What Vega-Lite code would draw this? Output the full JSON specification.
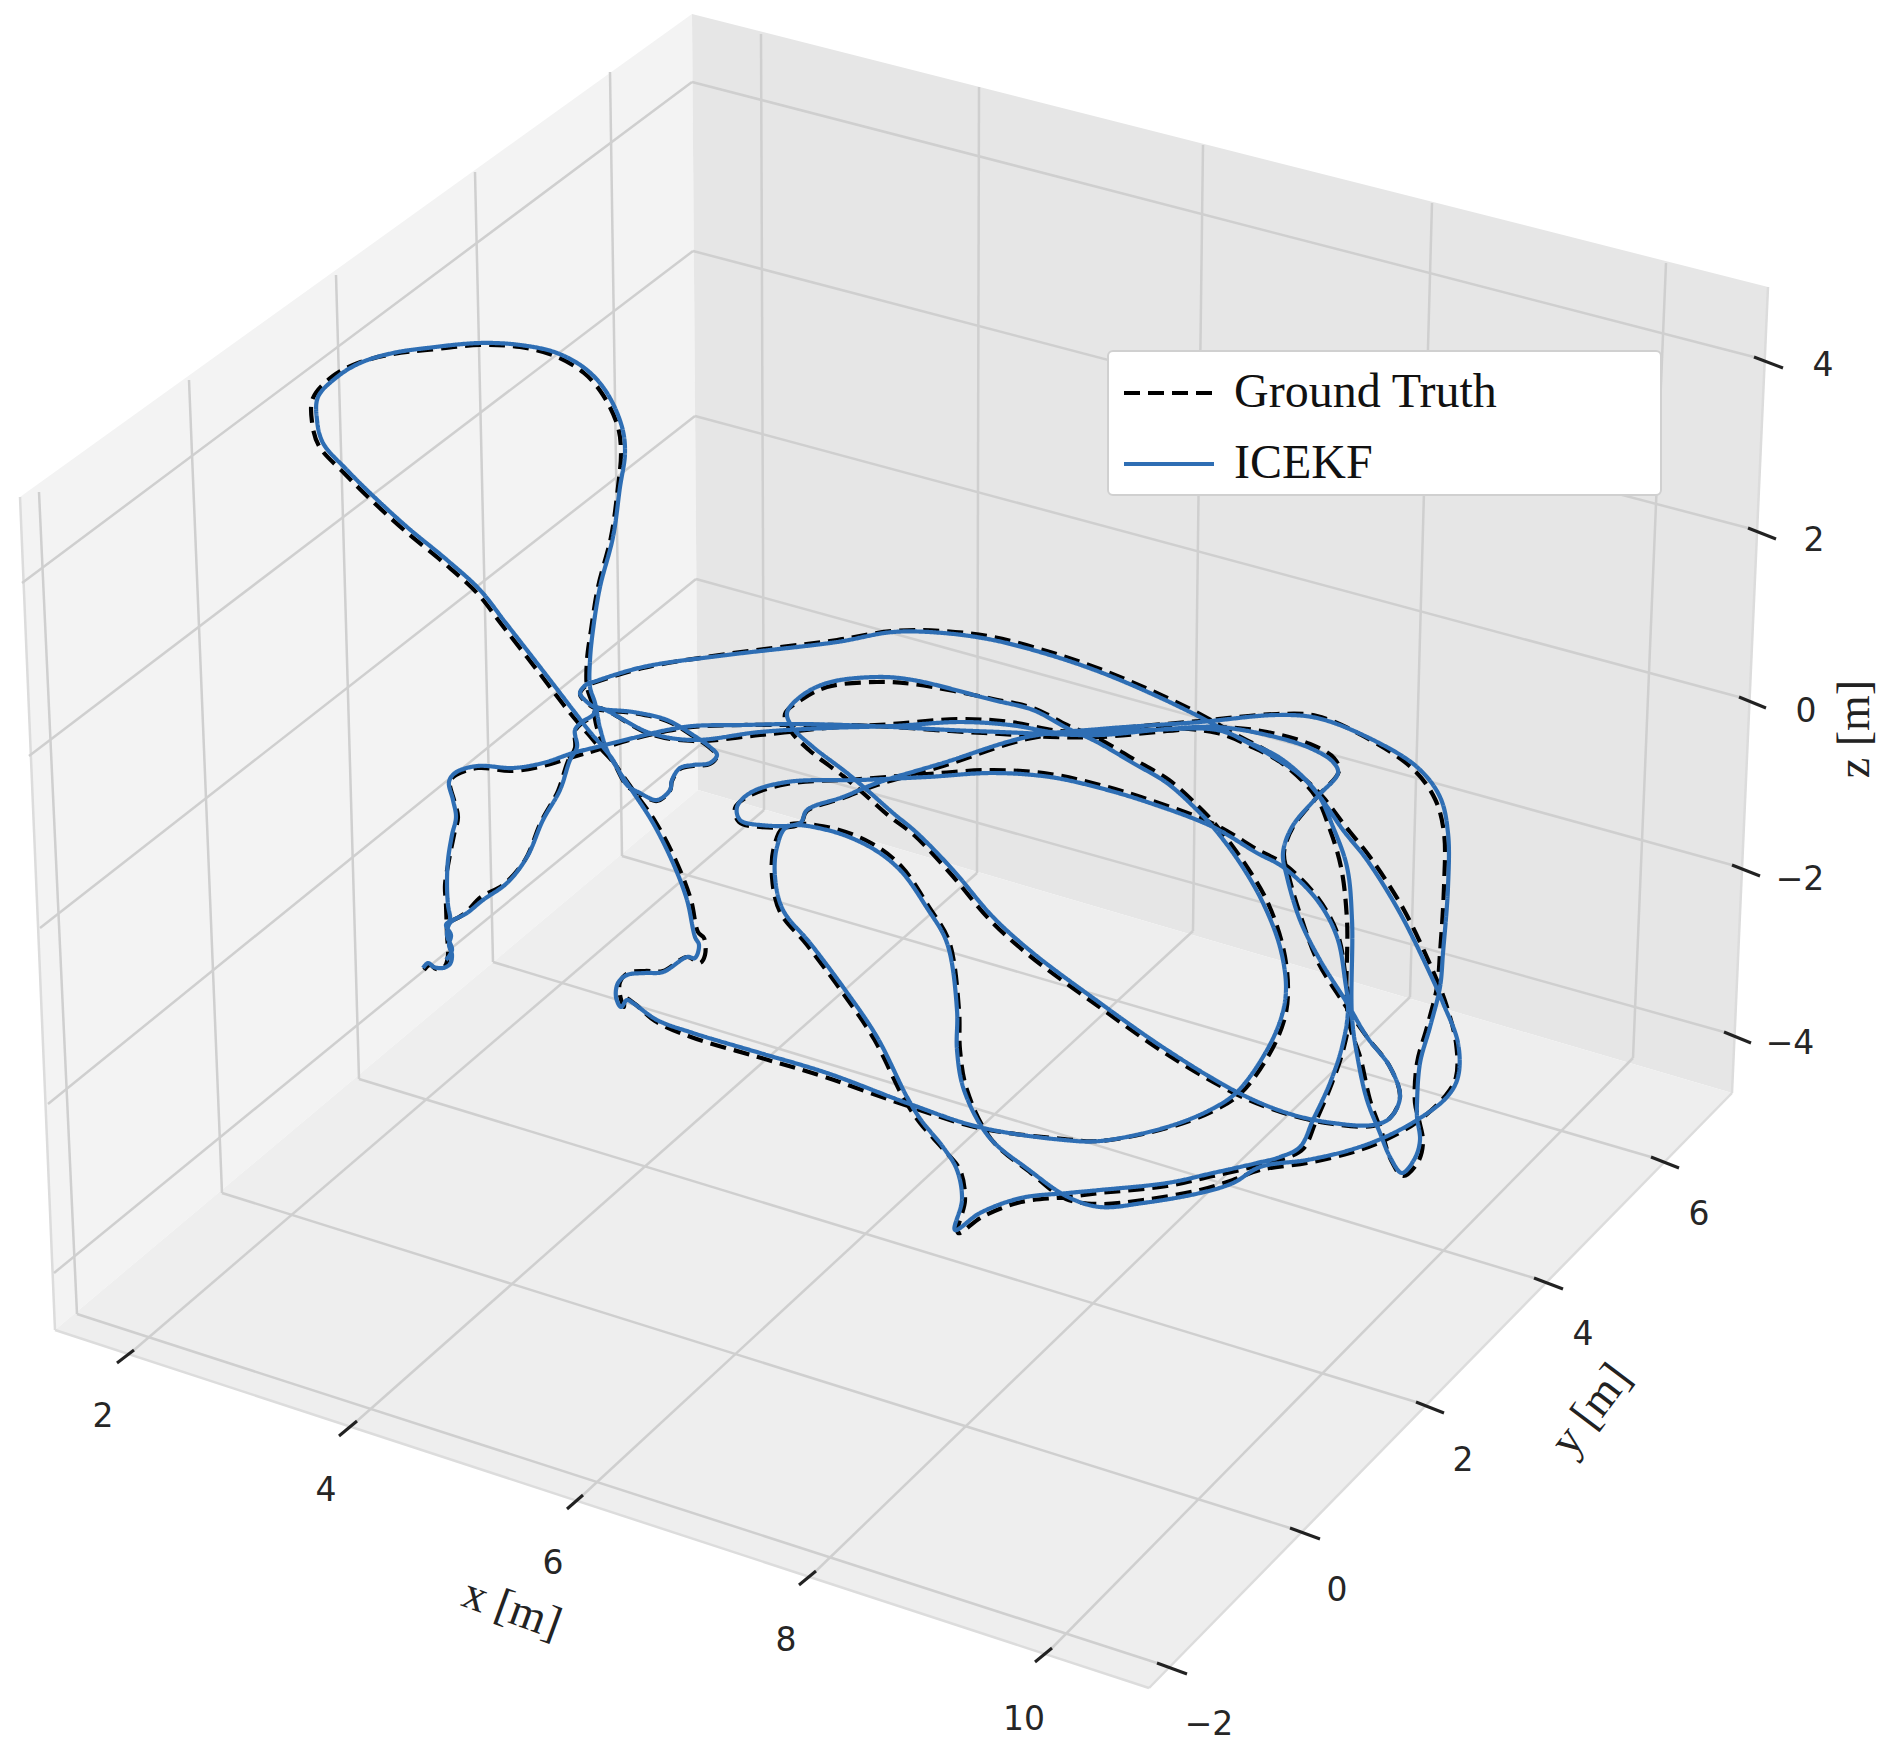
{"$schema":"https://vega.github.io/schema/vega-lite/v6.json","width":1890,"height":1762,"padding":0,"autosize":{"type":"fit","contains":"padding"},"background":"white",
"datasets":{
"left":[{"px":20,"py":497,"i":1},{"px":692,"py":14,"i":2},{"px":698,"py":790,"i":3},{"px":55,"py":1330,"i":4}],
"back":[{"px":692,"py":14,"i":1},{"px":1768,"py":287,"i":2},{"px":1732,"py":1093,"i":3},{"px":698,"py":790,"i":4}],
"floor":[{"px":55,"py":1330,"i":1},{"px":698,"py":790,"i":2},{"px":1732,"py":1093,"i":3},{"px":1149,"py":1688,"i":4}],
"edges":[{"px":55,"py":1330,"qx":1149,"qy":1688},{"px":1149,"py":1688,"qx":1732,"qy":1093},{"px":1768,"py":287,"qx":1732,"qy":1093},{"px":20,"py":497,"qx":55,"qy":1330}],
"grid":[{"px":39,"py":492,"qx":77,"qy":1314},{"px":189,"py":380,"qx":222,"qy":1193},{"px":336,"py":275,"qx":359,"qy":1079},{"px":475,"py":172,"qx":493,"qy":962},{"px":610,"py":72,"qx":622,"qy":856},
{"px":77,"py":1314,"qx":1157,"qy":1663},{"px":222,"py":1193,"qx":1290,"qy":1528},{"px":359,"py":1079,"qx":1416,"qy":1402},{"px":493,"py":962,"qx":1534,"qy":1278},{"px":622,"py":856,"qx":1651,"qy":1157},
{"px":761,"py":34,"qx":764,"qy":810},{"px":979,"py":87,"qx":977,"qy":873},{"px":1203,"py":145,"qx":1193,"qy":931},{"px":1432,"py":203,"qx":1410,"qy":997},{"px":1666,"py":263,"qx":1633,"qy":1058},
{"px":764,"py":810,"qx":134,"qy":1350},{"px":977,"py":873,"qx":357,"qy":1421},{"px":1193,"py":931,"qx":583,"qy":1495},{"px":1410,"py":997,"qx":816,"qy":1571},{"px":1633,"py":1058,"qx":1052,"qy":1648},
{"px":22,"py":583,"qx":692,"qy":82},{"px":29,"py":756,"qx":693,"qy":251},{"px":40,"py":928,"qx":695,"qy":416},{"px":48,"py":1104,"qx":696,"qy":579},{"px":54,"py":1273,"qx":700,"qy":745},
{"px":692,"py":82,"qx":1754,"qy":357},{"px":693,"py":251,"qx":1748,"qy":528},{"px":695,"py":416,"qx":1739,"qy":697},{"px":696,"py":579,"qx":1732,"qy":865},{"px":700,"py":745,"qx":1724,"qy":1032}],
"ticks":[{"px":117,"py":1363,"qx":134,"qy":1350},{"px":339,"py":1436,"qx":357,"qy":1421},{"px":567,"py":1509,"qx":583,"qy":1495},{"px":799,"py":1585,"qx":816,"qy":1571},{"px":1035,"py":1662,"qx":1052,"qy":1648},
{"px":1157,"py":1663,"qx":1187,"qy":1674},{"px":1290,"py":1528,"qx":1320,"qy":1539},{"px":1416,"py":1402,"qx":1444,"qy":1413},{"px":1534,"py":1278,"qx":1563,"qy":1289},{"px":1651,"py":1157,"qx":1679,"qy":1168},
{"px":1754,"py":357,"qx":1783,"qy":368},{"px":1748,"py":528,"qx":1776,"qy":539},{"px":1739,"py":697,"qx":1766,"qy":708},{"px":1732,"py":865,"qx":1760,"qy":876},{"px":1724,"py":1032,"qx":1751,"qy":1043}],
"ticklabels":[{"px":103,"py":1417,"t":"2"},{"px":326,"py":1491,"t":"4"},{"px":553,"py":1564,"t":"6"},{"px":786,"py":1641,"t":"8"},{"px":1024,"py":1720,"t":"10"},
{"px":1209,"py":1725,"t":"−2"},{"px":1337,"py":1591,"t":"0"},{"px":1463,"py":1461,"t":"2"},{"px":1583,"py":1335,"t":"4"},{"px":1699,"py":1215,"t":"6"},
{"px":1823,"py":366,"t":"4"},{"px":1814,"py":541,"t":"2"},{"px":1806,"py":712,"t":"0"},{"px":1800,"py":880,"t":"−2"},{"px":1790,"py":1044,"t":"−4"}],
"traj":[
{"s":"Ground Truth","i":1,"px":424,"py":970},{"s":"Ground Truth","i":2,"px":430,"py":965},{"s":"Ground Truth","i":3,"px":436,"py":969},{"s":"Ground Truth","i":4,"px":445,"py":966},{"s":"Ground Truth","i":5,"px":448,"py":955},{"s":"Ground Truth","i":6,"px":447,"py":935},{"s":"Ground Truth","i":7,"px":446,"py":905},{"s":"Ground Truth","i":8,"px":445,"py":885},{"s":"Ground Truth","i":9,"px":449,"py":860},{"s":"Ground Truth","i":10,"px":454,"py":835},{"s":"Ground Truth","i":11,"px":458,"py":817},{"s":"Ground Truth","i":12,"px":454,"py":800},{"s":"Ground Truth","i":13,"px":450,"py":782},{"s":"Ground Truth","i":14,"px":456,"py":775},{"s":"Ground Truth","i":15,"px":478,"py":768},{"s":"Ground Truth","i":16,"px":513,"py":771},{"s":"Ground Truth","i":17,"px":543,"py":766},{"s":"Ground Truth","i":18,"px":573,"py":757},{"s":"Ground Truth","i":19,"px":597,"py":750},{"s":"Ground Truth","i":20,"px":633,"py":739},{"s":"Ground Truth","i":21,"px":667,"py":731},{"s":"Ground Truth","i":22,"px":693,"py":727},{"s":"Ground Truth","i":23,"px":743,"py":725},{"s":"Ground Truth","i":24,"px":793,"py":725},{"s":"Ground Truth","i":25,"px":843,"py":725},{"s":"Ground Truth","i":26,"px":893,"py":727},{"s":"Ground Truth","i":27,"px":950,"py":731},{"s":"Ground Truth","i":28,"px":1000,"py":734},{"s":"Ground Truth","i":29,"px":1050,"py":737},{"s":"Ground Truth","i":30,"px":1100,"py":737},{"s":"Ground Truth","i":31,"px":1167,"py":731},{"s":"Ground Truth","i":32,"px":1217,"py":727},{"s":"Ground Truth","i":33,"px":1267,"py":732},{"s":"Ground Truth","i":34,"px":1310,"py":744},{"s":"Ground Truth","i":35,"px":1334,"py":758},{"s":"Ground Truth","i":36,"px":1339,"py":771},{"s":"Ground Truth","i":37,"px":1318,"py":796},{"s":"Ground Truth","i":38,"px":1293,"py":827},{"s":"Ground Truth","i":39,"px":1284,"py":853},{"s":"Ground Truth","i":40,"px":1289,"py":877},{"s":"Ground Truth","i":41,"px":1302,"py":920},{"s":"Ground Truth","i":42,"px":1318,"py":962},{"s":"Ground Truth","i":43,"px":1345,"py":1005},{"s":"Ground Truth","i":44,"px":1367,"py":1037},{"s":"Ground Truth","i":45,"px":1390,"py":1067},{"s":"Ground Truth","i":46,"px":1400,"py":1097},{"s":"Ground Truth","i":47,"px":1390,"py":1118},{"s":"Ground Truth","i":48,"px":1373,"py":1126},{"s":"Ground Truth","i":49,"px":1333,"py":1124},{"s":"Ground Truth","i":50,"px":1287,"py":1114},{"s":"Ground Truth","i":51,"px":1236,"py":1094},{"s":"Ground Truth","i":52,"px":1165,"py":1053},{"s":"Ground Truth","i":53,"px":1098,"py":1006},{"s":"Ground Truth","i":54,"px":1030,"py":956},{"s":"Ground Truth","i":55,"px":990,"py":920},{"s":"Ground Truth","i":56,"px":950,"py":873},{"s":"Ground Truth","i":57,"px":914,"py":835},{"s":"Ground Truth","i":58,"px":889,"py":816},{"s":"Ground Truth","i":59,"px":863,"py":793},{"s":"Ground Truth","i":60,"px":843,"py":776},{"s":"Ground Truth","i":61,"px":809,"py":750},{"s":"Ground Truth","i":62,"px":790,"py":730},{"s":"Ground Truth","i":63,"px":785,"py":714},{"s":"Ground Truth","i":64,"px":801,"py":700},{"s":"Ground Truth","i":65,"px":827,"py":687},{"s":"Ground Truth","i":66,"px":877,"py":682},{"s":"Ground Truth","i":67,"px":913,"py":684},{"s":"Ground Truth","i":68,"px":993,"py":699},{"s":"Ground Truth","i":69,"px":1033,"py":708},{"s":"Ground Truth","i":70,"px":1067,"py":725},{"s":"Ground Truth","i":71,"px":1099,"py":739},{"s":"Ground Truth","i":72,"px":1135,"py":760},{"s":"Ground Truth","i":73,"px":1169,"py":780},{"s":"Ground Truth","i":74,"px":1199,"py":807},{"s":"Ground Truth","i":75,"px":1216,"py":825},{"s":"Ground Truth","i":76,"px":1243,"py":861},{"s":"Ground Truth","i":77,"px":1267,"py":901},{"s":"Ground Truth","i":78,"px":1283,"py":947},{"s":"Ground Truth","i":79,"px":1288,"py":987},{"s":"Ground Truth","i":80,"px":1285,"py":1017},{"s":"Ground Truth","i":81,"px":1270,"py":1053},{"s":"Ground Truth","i":82,"px":1240,"py":1094},{"s":"Ground Truth","i":83,"px":1211,"py":1112},{"s":"Ground Truth","i":84,"px":1167,"py":1128},{"s":"Ground Truth","i":85,"px":1100,"py":1141},{"s":"Ground Truth","i":86,"px":1064,"py":1139},{"s":"Ground Truth","i":87,"px":979,"py":1128},{"s":"Ground Truth","i":88,"px":905,"py":1105},{"s":"Ground Truth","i":89,"px":825,"py":1077},{"s":"Ground Truth","i":90,"px":758,"py":1057},{"s":"Ground Truth","i":91,"px":691,"py":1037},{"s":"Ground Truth","i":92,"px":655,"py":1021},{"s":"Ground Truth","i":93,"px":635,"py":1004},{"s":"Ground Truth","i":94,"px":625,"py":998},{"s":"Ground Truth","i":95,"px":624,"py":1007},{"s":"Ground Truth","i":96,"px":620,"py":995},{"s":"Ground Truth","i":97,"px":620,"py":982},{"s":"Ground Truth","i":98,"px":628,"py":973},{"s":"Ground Truth","i":99,"px":645,"py":971},{"s":"Ground Truth","i":100,"px":663,"py":971},{"s":"Ground Truth","i":101,"px":687,"py":957},{"s":"Ground Truth","i":102,"px":700,"py":963},{"s":"Ground Truth","i":103,"px":705,"py":955},{"s":"Ground Truth","i":104,"px":704,"py":938},{"s":"Ground Truth","i":105,"px":698,"py":932},{"s":"Ground Truth","i":106,"px":691,"py":900},{"s":"Ground Truth","i":107,"px":676,"py":861},{"s":"Ground Truth","i":108,"px":655,"py":821},{"s":"Ground Truth","i":109,"px":633,"py":790},{"s":"Ground Truth","i":110,"px":617,"py":767},{"s":"Ground Truth","i":111,"px":606,"py":750},{"s":"Ground Truth","i":112,"px":597,"py":728},{"s":"Ground Truth","i":113,"px":592,"py":703},{"s":"Ground Truth","i":114,"px":587,"py":687},{"s":"Ground Truth","i":115,"px":587,"py":660},{"s":"Ground Truth","i":116,"px":591,"py":630},{"s":"Ground Truth","i":117,"px":598,"py":587},{"s":"Ground Truth","i":118,"px":611,"py":537},{"s":"Ground Truth","i":119,"px":618,"py":487},{"s":"Ground Truth","i":120,"px":621,"py":453},{"s":"Ground Truth","i":121,"px":618,"py":427},{"s":"Ground Truth","i":122,"px":603,"py":395},{"s":"Ground Truth","i":123,"px":584,"py":373},{"s":"Ground Truth","i":124,"px":555,"py":356},{"s":"Ground Truth","i":125,"px":520,"py":347},{"s":"Ground Truth","i":126,"px":480,"py":345},{"s":"Ground Truth","i":127,"px":427,"py":350},{"s":"Ground Truth","i":128,"px":393,"py":354},{"s":"Ground Truth","i":129,"px":358,"py":363},{"s":"Ground Truth","i":130,"px":333,"py":376},{"s":"Ground Truth","i":131,"px":313,"py":398},{"s":"Ground Truth","i":132,"px":312,"py":422},{"s":"Ground Truth","i":133,"px":319,"py":446},{"s":"Ground Truth","i":134,"px":344,"py":473},{"s":"Ground Truth","i":135,"px":367,"py":496},{"s":"Ground Truth","i":136,"px":404,"py":530},{"s":"Ground Truth","i":137,"px":444,"py":563},{"s":"Ground Truth","i":138,"px":477,"py":593},{"s":"Ground Truth","i":139,"px":502,"py":625},{"s":"Ground Truth","i":140,"px":537,"py":670},{"s":"Ground Truth","i":141,"px":570,"py":713},{"s":"Ground Truth","i":142,"px":588,"py":734},{"s":"Ground Truth","i":143,"px":601,"py":749},{"s":"Ground Truth","i":144,"px":613,"py":762},{"s":"Ground Truth","i":145,"px":627,"py":786},{"s":"Ground Truth","i":146,"px":640,"py":794},{"s":"Ground Truth","i":147,"px":657,"py":801},{"s":"Ground Truth","i":148,"px":670,"py":791},{"s":"Ground Truth","i":149,"px":672,"py":781},{"s":"Ground Truth","i":150,"px":680,"py":769},{"s":"Ground Truth","i":151,"px":693,"py":766},{"s":"Ground Truth","i":152,"px":710,"py":764},{"s":"Ground Truth","i":153,"px":717,"py":756},{"s":"Ground Truth","i":154,"px":710,"py":748},{"s":"Ground Truth","i":155,"px":693,"py":736},{"s":"Ground Truth","i":156,"px":667,"py":721},{"s":"Ground Truth","i":157,"px":633,"py":713},{"s":"Ground Truth","i":158,"px":597,"py":709},{"s":"Ground Truth","i":159,"px":587,"py":703},{"s":"Ground Truth","i":160,"px":580,"py":694},{"s":"Ground Truth","i":161,"px":587,"py":685},{"s":"Ground Truth","i":162,"px":593,"py":683},{"s":"Ground Truth","i":163,"px":643,"py":668},{"s":"Ground Truth","i":164,"px":727,"py":654},{"s":"Ground Truth","i":165,"px":837,"py":640},{"s":"Ground Truth","i":166,"px":893,"py":631},{"s":"Ground Truth","i":167,"px":943,"py":631},{"s":"Ground Truth","i":168,"px":993,"py":637},{"s":"Ground Truth","i":169,"px":1050,"py":652},{"s":"Ground Truth","i":170,"px":1100,"py":669},{"s":"Ground Truth","i":171,"px":1150,"py":690},{"s":"Ground Truth","i":172,"px":1200,"py":714},{"s":"Ground Truth","i":173,"px":1233,"py":733},{"s":"Ground Truth","i":174,"px":1267,"py":751},{"s":"Ground Truth","i":175,"px":1300,"py":775},{"s":"Ground Truth","i":176,"px":1322,"py":796},{"s":"Ground Truth","i":177,"px":1346,"py":827},{"s":"Ground Truth","i":178,"px":1370,"py":857},{"s":"Ground Truth","i":179,"px":1404,"py":910},{"s":"Ground Truth","i":180,"px":1436,"py":978},{"s":"Ground Truth","i":181,"px":1445,"py":1001},{"s":"Ground Truth","i":182,"px":1456,"py":1043},{"s":"Ground Truth","i":183,"px":1456,"py":1077},{"s":"Ground Truth","i":184,"px":1446,"py":1095},{"s":"Ground Truth","i":185,"px":1417,"py":1122},{"s":"Ground Truth","i":186,"px":1383,"py":1141},{"s":"Ground Truth","i":187,"px":1350,"py":1153},{"s":"Ground Truth","i":188,"px":1307,"py":1163},{"s":"Ground Truth","i":189,"px":1260,"py":1170},{"s":"Ground Truth","i":190,"px":1233,"py":1180},{"s":"Ground Truth","i":191,"px":1200,"py":1190},{"s":"Ground Truth","i":192,"px":1143,"py":1200},{"s":"Ground Truth","i":193,"px":1100,"py":1204},{"s":"Ground Truth","i":194,"px":1066,"py":1199},{"s":"Ground Truth","i":195,"px":1031,"py":1173},{"s":"Ground Truth","i":196,"px":991,"py":1139},{"s":"Ground Truth","i":197,"px":967,"py":1090},{"s":"Ground Truth","i":198,"px":960,"py":1050},{"s":"Ground Truth","i":199,"px":959,"py":1010},{"s":"Ground Truth","i":200,"px":949,"py":941},{"s":"Ground Truth","i":201,"px":929,"py":907},{"s":"Ground Truth","i":202,"px":901,"py":866},{"s":"Ground Truth","i":203,"px":871,"py":843},{"s":"Ground Truth","i":204,"px":827,"py":827},{"s":"Ground Truth","i":205,"px":785,"py":826},{"s":"Ground Truth","i":206,"px":774,"py":847},{"s":"Ground Truth","i":207,"px":772,"py":877},{"s":"Ground Truth","i":208,"px":780,"py":912},{"s":"Ground Truth","i":209,"px":807,"py":945},{"s":"Ground Truth","i":210,"px":840,"py":989},{"s":"Ground Truth","i":211,"px":874,"py":1039},{"s":"Ground Truth","i":212,"px":904,"py":1099},{"s":"Ground Truth","i":213,"px":920,"py":1123},{"s":"Ground Truth","i":214,"px":944,"py":1150},{"s":"Ground Truth","i":215,"px":960,"py":1170},{"s":"Ground Truth","i":216,"px":965,"py":1200},{"s":"Ground Truth","i":217,"px":958,"py":1233},{"s":"Ground Truth","i":218,"px":982,"py":1217},{"s":"Ground Truth","i":219,"px":1021,"py":1202},{"s":"Ground Truth","i":220,"px":1068,"py":1197},{"s":"Ground Truth","i":221,"px":1100,"py":1193},{"s":"Ground Truth","i":222,"px":1167,"py":1186},{"s":"Ground Truth","i":223,"px":1213,"py":1176},{"s":"Ground Truth","i":224,"px":1257,"py":1166},{"s":"Ground Truth","i":225,"px":1280,"py":1160},{"s":"Ground Truth","i":226,"px":1303,"py":1149},{"s":"Ground Truth","i":227,"px":1316,"py":1121},{"s":"Ground Truth","i":228,"px":1332,"py":1083},{"s":"Ground Truth","i":229,"px":1344,"py":1047},{"s":"Ground Truth","i":230,"px":1350,"py":1010},{"s":"Ground Truth","i":231,"px":1346,"py":980},{"s":"Ground Truth","i":232,"px":1338,"py":935},{"s":"Ground Truth","i":233,"px":1318,"py":898},{"s":"Ground Truth","i":234,"px":1284,"py":864},{"s":"Ground Truth","i":235,"px":1258,"py":850},{"s":"Ground Truth","i":236,"px":1214,"py":824},{"s":"Ground Truth","i":237,"px":1150,"py":800},{"s":"Ground Truth","i":238,"px":1100,"py":785},{"s":"Ground Truth","i":239,"px":1050,"py":774},{"s":"Ground Truth","i":240,"px":993,"py":770},{"s":"Ground Truth","i":241,"px":927,"py":774},{"s":"Ground Truth","i":242,"px":860,"py":779},{"s":"Ground Truth","i":243,"px":787,"py":784},{"s":"Ground Truth","i":244,"px":749,"py":796},{"s":"Ground Truth","i":245,"px":735,"py":808},{"s":"Ground Truth","i":246,"px":739,"py":822},{"s":"Ground Truth","i":247,"px":760,"py":827},{"s":"Ground Truth","i":248,"px":800,"py":824},{"s":"Ground Truth","i":249,"px":807,"py":811},{"s":"Ground Truth","i":250,"px":843,"py":798},{"s":"Ground Truth","i":251,"px":877,"py":785},{"s":"Ground Truth","i":252,"px":943,"py":766},{"s":"Ground Truth","i":253,"px":1027,"py":739},{"s":"Ground Truth","i":254,"px":1100,"py":730},{"s":"Ground Truth","i":255,"px":1200,"py":721},{"s":"Ground Truth","i":256,"px":1277,"py":714},{"s":"Ground Truth","i":257,"px":1317,"py":716},{"s":"Ground Truth","i":258,"px":1365,"py":737},{"s":"Ground Truth","i":259,"px":1413,"py":769},{"s":"Ground Truth","i":260,"px":1435,"py":799},{"s":"Ground Truth","i":261,"px":1444,"py":833},{"s":"Ground Truth","i":262,"px":1444,"py":887},{"s":"Ground Truth","i":263,"px":1440,"py":953},{"s":"Ground Truth","i":264,"px":1437,"py":987},{"s":"Ground Truth","i":265,"px":1427,"py":1027},{"s":"Ground Truth","i":266,"px":1417,"py":1063},{"s":"Ground Truth","i":267,"px":1415,"py":1103},{"s":"Ground Truth","i":268,"px":1419,"py":1120},{"s":"Ground Truth","i":269,"px":1423,"py":1142},{"s":"Ground Truth","i":270,"px":1418,"py":1162},{"s":"Ground Truth","i":271,"px":1403,"py":1176},{"s":"Ground Truth","i":272,"px":1391,"py":1160},{"s":"Ground Truth","i":273,"px":1382,"py":1133},{"s":"Ground Truth","i":274,"px":1370,"py":1100},{"s":"Ground Truth","i":275,"px":1361,"py":1060},{"s":"Ground Truth","i":276,"px":1348,"py":1017},{"s":"Ground Truth","i":277,"px":1347,"py":920},{"s":"Ground Truth","i":278,"px":1341,"py":867},{"s":"Ground Truth","i":279,"px":1329,"py":827},{"s":"Ground Truth","i":280,"px":1316,"py":797},{"s":"Ground Truth","i":281,"px":1283,"py":764},{"s":"Ground Truth","i":282,"px":1250,"py":746},{"s":"Ground Truth","i":283,"px":1217,"py":733},{"s":"Ground Truth","i":284,"px":1150,"py":727},{"s":"Ground Truth","i":285,"px":1100,"py":730},{"s":"Ground Truth","i":286,"px":1060,"py":731},{"s":"Ground Truth","i":287,"px":1010,"py":722},{"s":"Ground Truth","i":288,"px":960,"py":719},{"s":"Ground Truth","i":289,"px":893,"py":724},{"s":"Ground Truth","i":290,"px":827,"py":728},{"s":"Ground Truth","i":291,"px":760,"py":735},{"s":"Ground Truth","i":292,"px":693,"py":741},{"s":"Ground Truth","i":293,"px":650,"py":734},{"s":"Ground Truth","i":294,"px":597,"py":708},{"s":"Ground Truth","i":295,"px":593,"py":716},{"s":"Ground Truth","i":296,"px":582,"py":723},{"s":"Ground Truth","i":297,"px":575,"py":731},{"s":"Ground Truth","i":298,"px":575,"py":748},{"s":"Ground Truth","i":299,"px":568,"py":761},{"s":"Ground Truth","i":300,"px":558,"py":791},{"s":"Ground Truth","i":301,"px":541,"py":822},{"s":"Ground Truth","i":302,"px":525,"py":860},{"s":"Ground Truth","i":303,"px":503,"py":885},{"s":"Ground Truth","i":304,"px":481,"py":897},{"s":"Ground Truth","i":305,"px":464,"py":914},{"s":"Ground Truth","i":306,"px":449,"py":922},
{"s":"ICEKF","i":1,"px":423,"py":968},{"s":"ICEKF","i":2,"px":428,"py":963},{"s":"ICEKF","i":3,"px":434,"py":967},{"s":"ICEKF","i":4,"px":443,"py":968},{"s":"ICEKF","i":5,"px":450,"py":964},{"s":"ICEKF","i":6,"px":452,"py":955},{"s":"ICEKF","i":7,"px":449,"py":945},{"s":"ICEKF","i":8,"px":451,"py":935},{"s":"ICEKF","i":9,"px":446,"py":925},{"s":"ICEKF","i":10,"px":450,"py":920},{"s":"ICEKF","i":11,"px":448,"py":905},{"s":"ICEKF","i":12,"px":447,"py":885},{"s":"ICEKF","i":13,"px":448,"py":860},{"s":"ICEKF","i":14,"px":452,"py":835},{"s":"ICEKF","i":15,"px":456,"py":817},{"s":"ICEKF","i":16,"px":453,"py":800},{"s":"ICEKF","i":17,"px":449,"py":782},{"s":"ICEKF","i":18,"px":455,"py":773},{"s":"ICEKF","i":19,"px":477,"py":766},{"s":"ICEKF","i":20,"px":513,"py":768},{"s":"ICEKF","i":21,"px":543,"py":763},{"s":"ICEKF","i":22,"px":573,"py":753},{"s":"ICEKF","i":23,"px":597,"py":747},{"s":"ICEKF","i":24,"px":633,"py":738},{"s":"ICEKF","i":25,"px":667,"py":730},{"s":"ICEKF","i":26,"px":693,"py":726},{"s":"ICEKF","i":27,"px":743,"py":725},{"s":"ICEKF","i":28,"px":793,"py":724},{"s":"ICEKF","i":29,"px":843,"py":725},{"s":"ICEKF","i":30,"px":893,"py":727},{"s":"ICEKF","i":31,"px":950,"py":730},{"s":"ICEKF","i":32,"px":1000,"py":732},{"s":"ICEKF","i":33,"px":1050,"py":734},{"s":"ICEKF","i":34,"px":1100,"py":735},{"s":"ICEKF","i":35,"px":1167,"py":729},{"s":"ICEKF","i":36,"px":1217,"py":727},{"s":"ICEKF","i":37,"px":1267,"py":735},{"s":"ICEKF","i":38,"px":1310,"py":748},{"s":"ICEKF","i":39,"px":1333,"py":762},{"s":"ICEKF","i":40,"px":1338,"py":773},{"s":"ICEKF","i":41,"px":1317,"py":797},{"s":"ICEKF","i":42,"px":1292,"py":827},{"s":"ICEKF","i":43,"px":1283,"py":853},{"s":"ICEKF","i":44,"px":1287,"py":877},{"s":"ICEKF","i":45,"px":1300,"py":920},{"s":"ICEKF","i":46,"px":1320,"py":960},{"s":"ICEKF","i":47,"px":1347,"py":1003},{"s":"ICEKF","i":48,"px":1367,"py":1037},{"s":"ICEKF","i":49,"px":1390,"py":1067},{"s":"ICEKF","i":50,"px":1400,"py":1097},{"s":"ICEKF","i":51,"px":1390,"py":1118},{"s":"ICEKF","i":52,"px":1373,"py":1125},{"s":"ICEKF","i":53,"px":1333,"py":1123},{"s":"ICEKF","i":54,"px":1287,"py":1113},{"s":"ICEKF","i":55,"px":1237,"py":1092},{"s":"ICEKF","i":56,"px":1167,"py":1050},{"s":"ICEKF","i":57,"px":1100,"py":1003},{"s":"ICEKF","i":58,"px":1033,"py":953},{"s":"ICEKF","i":59,"px":993,"py":917},{"s":"ICEKF","i":60,"px":953,"py":870},{"s":"ICEKF","i":61,"px":917,"py":833},{"s":"ICEKF","i":62,"px":893,"py":813},{"s":"ICEKF","i":63,"px":867,"py":790},{"s":"ICEKF","i":64,"px":847,"py":773},{"s":"ICEKF","i":65,"px":813,"py":747},{"s":"ICEKF","i":66,"px":793,"py":728},{"s":"ICEKF","i":67,"px":787,"py":713},{"s":"ICEKF","i":68,"px":800,"py":697},{"s":"ICEKF","i":69,"px":827,"py":683},{"s":"ICEKF","i":70,"px":877,"py":677},{"s":"ICEKF","i":71,"px":913,"py":680},{"s":"ICEKF","i":72,"px":993,"py":700},{"s":"ICEKF","i":73,"px":1033,"py":710},{"s":"ICEKF","i":74,"px":1067,"py":728},{"s":"ICEKF","i":75,"px":1097,"py":742},{"s":"ICEKF","i":76,"px":1133,"py":763},{"s":"ICEKF","i":77,"px":1167,"py":783},{"s":"ICEKF","i":78,"px":1197,"py":810},{"s":"ICEKF","i":79,"px":1213,"py":827},{"s":"ICEKF","i":80,"px":1240,"py":863},{"s":"ICEKF","i":81,"px":1263,"py":903},{"s":"ICEKF","i":82,"px":1280,"py":947},{"s":"ICEKF","i":83,"px":1286,"py":987},{"s":"ICEKF","i":84,"px":1282,"py":1015},{"s":"ICEKF","i":85,"px":1267,"py":1050},{"s":"ICEKF","i":86,"px":1237,"py":1092},{"s":"ICEKF","i":87,"px":1210,"py":1110},{"s":"ICEKF","i":88,"px":1167,"py":1127},{"s":"ICEKF","i":89,"px":1100,"py":1141},{"s":"ICEKF","i":90,"px":1064,"py":1140},{"s":"ICEKF","i":91,"px":979,"py":1127},{"s":"ICEKF","i":92,"px":907,"py":1103},{"s":"ICEKF","i":93,"px":827,"py":1073},{"s":"ICEKF","i":94,"px":760,"py":1053},{"s":"ICEKF","i":95,"px":693,"py":1033},{"s":"ICEKF","i":96,"px":657,"py":1020},{"s":"ICEKF","i":97,"px":633,"py":1003},{"s":"ICEKF","i":98,"px":627,"py":1000},{"s":"ICEKF","i":99,"px":621,"py":1007},{"s":"ICEKF","i":100,"px":616,"py":997},{"s":"ICEKF","i":101,"px":618,"py":983},{"s":"ICEKF","i":102,"px":627,"py":975},{"s":"ICEKF","i":103,"px":645,"py":973},{"s":"ICEKF","i":104,"px":663,"py":972},{"s":"ICEKF","i":105,"px":687,"py":957},{"s":"ICEKF","i":106,"px":695,"py":958},{"s":"ICEKF","i":107,"px":699,"py":945},{"s":"ICEKF","i":108,"px":695,"py":937},{"s":"ICEKF","i":109,"px":687,"py":900},{"s":"ICEKF","i":110,"px":673,"py":863},{"s":"ICEKF","i":111,"px":653,"py":823},{"s":"ICEKF","i":112,"px":633,"py":792},{"s":"ICEKF","i":113,"px":617,"py":768},{"s":"ICEKF","i":114,"px":607,"py":750},{"s":"ICEKF","i":115,"px":600,"py":728},{"s":"ICEKF","i":116,"px":595,"py":703},{"s":"ICEKF","i":117,"px":590,"py":687},{"s":"ICEKF","i":118,"px":590,"py":660},{"s":"ICEKF","i":119,"px":593,"py":630},{"s":"ICEKF","i":120,"px":600,"py":587},{"s":"ICEKF","i":121,"px":613,"py":537},{"s":"ICEKF","i":122,"px":620,"py":487},{"s":"ICEKF","i":123,"px":625,"py":453},{"s":"ICEKF","i":124,"px":622,"py":427},{"s":"ICEKF","i":125,"px":607,"py":393},{"s":"ICEKF","i":126,"px":587,"py":370},{"s":"ICEKF","i":127,"px":557,"py":353},{"s":"ICEKF","i":128,"px":520,"py":345},{"s":"ICEKF","i":129,"px":480,"py":343},{"s":"ICEKF","i":130,"px":427,"py":348},{"s":"ICEKF","i":131,"px":393,"py":353},{"s":"ICEKF","i":132,"px":360,"py":363},{"s":"ICEKF","i":133,"px":337,"py":377},{"s":"ICEKF","i":134,"px":318,"py":397},{"s":"ICEKF","i":135,"px":317,"py":420},{"s":"ICEKF","i":136,"px":323,"py":443},{"s":"ICEKF","i":137,"px":347,"py":470},{"s":"ICEKF","i":138,"px":370,"py":493},{"s":"ICEKF","i":139,"px":407,"py":527},{"s":"ICEKF","i":140,"px":447,"py":560},{"s":"ICEKF","i":141,"px":480,"py":590},{"s":"ICEKF","i":142,"px":505,"py":622},{"s":"ICEKF","i":143,"px":540,"py":667},{"s":"ICEKF","i":144,"px":573,"py":710},{"s":"ICEKF","i":145,"px":590,"py":732},{"s":"ICEKF","i":146,"px":603,"py":747},{"s":"ICEKF","i":147,"px":613,"py":760},{"s":"ICEKF","i":148,"px":627,"py":785},{"s":"ICEKF","i":149,"px":640,"py":793},{"s":"ICEKF","i":150,"px":657,"py":800},{"s":"ICEKF","i":151,"px":670,"py":790},{"s":"ICEKF","i":152,"px":672,"py":780},{"s":"ICEKF","i":153,"px":680,"py":768},{"s":"ICEKF","i":154,"px":693,"py":765},{"s":"ICEKF","i":155,"px":710,"py":763},{"s":"ICEKF","i":156,"px":717,"py":755},{"s":"ICEKF","i":157,"px":710,"py":747},{"s":"ICEKF","i":158,"px":693,"py":735},{"s":"ICEKF","i":159,"px":667,"py":720},{"s":"ICEKF","i":160,"px":633,"py":712},{"s":"ICEKF","i":161,"px":597,"py":708},{"s":"ICEKF","i":162,"px":587,"py":702},{"s":"ICEKF","i":163,"px":580,"py":693},{"s":"ICEKF","i":164,"px":587,"py":684},{"s":"ICEKF","i":165,"px":593,"py":682},{"s":"ICEKF","i":166,"px":643,"py":667},{"s":"ICEKF","i":167,"px":727,"py":655},{"s":"ICEKF","i":168,"px":837,"py":642},{"s":"ICEKF","i":169,"px":893,"py":632},{"s":"ICEKF","i":170,"px":943,"py":633},{"s":"ICEKF","i":171,"px":993,"py":640},{"s":"ICEKF","i":172,"px":1050,"py":655},{"s":"ICEKF","i":173,"px":1100,"py":672},{"s":"ICEKF","i":174,"px":1150,"py":693},{"s":"ICEKF","i":175,"px":1200,"py":717},{"s":"ICEKF","i":176,"px":1233,"py":735},{"s":"ICEKF","i":177,"px":1267,"py":753},{"s":"ICEKF","i":178,"px":1300,"py":775},{"s":"ICEKF","i":179,"px":1320,"py":797},{"s":"ICEKF","i":180,"px":1343,"py":830},{"s":"ICEKF","i":181,"px":1367,"py":860},{"s":"ICEKF","i":182,"px":1400,"py":913},{"s":"ICEKF","i":183,"px":1433,"py":980},{"s":"ICEKF","i":184,"px":1443,"py":1003},{"s":"ICEKF","i":185,"px":1458,"py":1043},{"s":"ICEKF","i":186,"px":1458,"py":1077},{"s":"ICEKF","i":187,"px":1447,"py":1097},{"s":"ICEKF","i":188,"px":1417,"py":1120},{"s":"ICEKF","i":189,"px":1383,"py":1138},{"s":"ICEKF","i":190,"px":1350,"py":1150},{"s":"ICEKF","i":191,"px":1307,"py":1160},{"s":"ICEKF","i":192,"px":1260,"py":1167},{"s":"ICEKF","i":193,"px":1233,"py":1183},{"s":"ICEKF","i":194,"px":1200,"py":1193},{"s":"ICEKF","i":195,"px":1143,"py":1203},{"s":"ICEKF","i":196,"px":1100,"py":1207},{"s":"ICEKF","i":197,"px":1068,"py":1197},{"s":"ICEKF","i":198,"px":1029,"py":1170},{"s":"ICEKF","i":199,"px":989,"py":1137},{"s":"ICEKF","i":200,"px":964,"py":1090},{"s":"ICEKF","i":201,"px":957,"py":1050},{"s":"ICEKF","i":202,"px":957,"py":1010},{"s":"ICEKF","i":203,"px":947,"py":943},{"s":"ICEKF","i":204,"px":927,"py":908},{"s":"ICEKF","i":205,"px":900,"py":870},{"s":"ICEKF","i":206,"px":870,"py":847},{"s":"ICEKF","i":207,"px":827,"py":830},{"s":"ICEKF","i":208,"px":787,"py":827},{"s":"ICEKF","i":209,"px":777,"py":847},{"s":"ICEKF","i":210,"px":775,"py":877},{"s":"ICEKF","i":211,"px":783,"py":910},{"s":"ICEKF","i":212,"px":810,"py":943},{"s":"ICEKF","i":213,"px":843,"py":987},{"s":"ICEKF","i":214,"px":877,"py":1037},{"s":"ICEKF","i":215,"px":907,"py":1097},{"s":"ICEKF","i":216,"px":921,"py":1120},{"s":"ICEKF","i":217,"px":943,"py":1147},{"s":"ICEKF","i":218,"px":957,"py":1170},{"s":"ICEKF","i":219,"px":962,"py":1200},{"s":"ICEKF","i":220,"px":955,"py":1230},{"s":"ICEKF","i":221,"px":980,"py":1213},{"s":"ICEKF","i":222,"px":1021,"py":1198},{"s":"ICEKF","i":223,"px":1068,"py":1193},{"s":"ICEKF","i":224,"px":1100,"py":1190},{"s":"ICEKF","i":225,"px":1167,"py":1183},{"s":"ICEKF","i":226,"px":1213,"py":1173},{"s":"ICEKF","i":227,"px":1257,"py":1163},{"s":"ICEKF","i":228,"px":1280,"py":1157},{"s":"ICEKF","i":229,"px":1300,"py":1147},{"s":"ICEKF","i":230,"px":1313,"py":1120},{"s":"ICEKF","i":231,"px":1330,"py":1083},{"s":"ICEKF","i":232,"px":1342,"py":1047},{"s":"ICEKF","i":233,"px":1348,"py":1010},{"s":"ICEKF","i":234,"px":1345,"py":980},{"s":"ICEKF","i":235,"px":1337,"py":937},{"s":"ICEKF","i":236,"px":1317,"py":900},{"s":"ICEKF","i":237,"px":1283,"py":867},{"s":"ICEKF","i":238,"px":1257,"py":853},{"s":"ICEKF","i":239,"px":1213,"py":827},{"s":"ICEKF","i":240,"px":1150,"py":803},{"s":"ICEKF","i":241,"px":1100,"py":788},{"s":"ICEKF","i":242,"px":1050,"py":777},{"s":"ICEKF","i":243,"px":993,"py":773},{"s":"ICEKF","i":244,"px":927,"py":777},{"s":"ICEKF","i":245,"px":860,"py":780},{"s":"ICEKF","i":246,"px":787,"py":782},{"s":"ICEKF","i":247,"px":750,"py":793},{"s":"ICEKF","i":248,"px":737,"py":807},{"s":"ICEKF","i":249,"px":740,"py":820},{"s":"ICEKF","i":250,"px":760,"py":825},{"s":"ICEKF","i":251,"px":800,"py":823},{"s":"ICEKF","i":252,"px":807,"py":810},{"s":"ICEKF","i":253,"px":843,"py":797},{"s":"ICEKF","i":254,"px":877,"py":783},{"s":"ICEKF","i":255,"px":943,"py":763},{"s":"ICEKF","i":256,"px":1027,"py":737},{"s":"ICEKF","i":257,"px":1100,"py":729},{"s":"ICEKF","i":258,"px":1200,"py":722},{"s":"ICEKF","i":259,"px":1277,"py":715},{"s":"ICEKF","i":260,"px":1317,"py":718},{"s":"ICEKF","i":261,"px":1367,"py":737},{"s":"ICEKF","i":262,"px":1417,"py":767},{"s":"ICEKF","i":263,"px":1440,"py":797},{"s":"ICEKF","i":264,"px":1448,"py":833},{"s":"ICEKF","i":265,"px":1448,"py":887},{"s":"ICEKF","i":266,"px":1443,"py":953},{"s":"ICEKF","i":267,"px":1440,"py":987},{"s":"ICEKF","i":268,"px":1430,"py":1027},{"s":"ICEKF","i":269,"px":1420,"py":1063},{"s":"ICEKF","i":270,"px":1417,"py":1103},{"s":"ICEKF","i":271,"px":1417,"py":1117},{"s":"ICEKF","i":272,"px":1420,"py":1140},{"s":"ICEKF","i":273,"px":1415,"py":1158},{"s":"ICEKF","i":274,"px":1402,"py":1173},{"s":"ICEKF","i":275,"px":1390,"py":1157},{"s":"ICEKF","i":276,"px":1380,"py":1133},{"s":"ICEKF","i":277,"px":1367,"py":1100},{"s":"ICEKF","i":278,"px":1358,"py":1060},{"s":"ICEKF","i":279,"px":1352,"py":1017},{"s":"ICEKF","i":280,"px":1352,"py":920},{"s":"ICEKF","i":281,"px":1347,"py":867},{"s":"ICEKF","i":282,"px":1333,"py":827},{"s":"ICEKF","i":283,"px":1317,"py":793},{"s":"ICEKF","i":284,"px":1283,"py":760},{"s":"ICEKF","i":285,"px":1250,"py":743},{"s":"ICEKF","i":286,"px":1217,"py":730},{"s":"ICEKF","i":287,"px":1150,"py":730},{"s":"ICEKF","i":288,"px":1100,"py":732},{"s":"ICEKF","i":289,"px":1060,"py":733},{"s":"ICEKF","i":290,"px":1010,"py":725},{"s":"ICEKF","i":291,"px":960,"py":722},{"s":"ICEKF","i":292,"px":893,"py":726},{"s":"ICEKF","i":293,"px":827,"py":728},{"s":"ICEKF","i":294,"px":760,"py":732},{"s":"ICEKF","i":295,"px":693,"py":740},{"s":"ICEKF","i":296,"px":650,"py":733},{"s":"ICEKF","i":297,"px":597,"py":708},{"s":"ICEKF","i":298,"px":593,"py":715},{"s":"ICEKF","i":299,"px":582,"py":722},{"s":"ICEKF","i":300,"px":575,"py":730},{"s":"ICEKF","i":301,"px":577,"py":747},{"s":"ICEKF","i":302,"px":570,"py":760},{"s":"ICEKF","i":303,"px":560,"py":790},{"s":"ICEKF","i":304,"px":543,"py":820},{"s":"ICEKF","i":305,"px":527,"py":857},{"s":"ICEKF","i":306,"px":507,"py":883},{"s":"ICEKF","i":307,"px":483,"py":900},{"s":"ICEKF","i":308,"px":467,"py":913},{"s":"ICEKF","i":309,"px":450,"py":923},{"s":"ICEKF","i":310,"px":447,"py":935},{"s":"ICEKF","i":311,"px":452,"py":950},{"s":"ICEKF","i":312,"px":446,"py":960}
]},
"layer":[
{"data":{"name":"left"},"mark":{"type":"line","fill":"#f3f3f3","stroke":"#f3f3f3","strokeWidth":0},"encoding":{"x":{"field":"px","type":"quantitative","scale":{"domain":[0,1890],"nice":false,"zero":false},"axis":null},"y":{"field":"py","type":"quantitative","scale":{"domain":[0,1762],"reverse":true,"nice":false,"zero":false},"axis":null},"order":{"field":"i"}}},
{"data":{"name":"back"},"mark":{"type":"line","fill":"#e6e6e6","stroke":"#e6e6e6","strokeWidth":0},"encoding":{"x":{"field":"px","type":"quantitative"},"y":{"field":"py","type":"quantitative"},"order":{"field":"i"}}},
{"data":{"name":"floor"},"mark":{"type":"line","fill":"#eeeeee","stroke":"#eeeeee","strokeWidth":0},"encoding":{"x":{"field":"px","type":"quantitative"},"y":{"field":"py","type":"quantitative"},"order":{"field":"i"}}},
{"data":{"name":"edges"},"mark":{"type":"rule","stroke":"#dcdcdc","strokeWidth":2.5},"encoding":{"x":{"field":"px","type":"quantitative"},"y":{"field":"py","type":"quantitative"},"x2":{"field":"qx"},"y2":{"field":"qy"}}},
{"data":{"name":"grid"},"mark":{"type":"rule","stroke":"#cfcfcf","strokeWidth":2.5},"encoding":{"x":{"field":"px","type":"quantitative"},"y":{"field":"py","type":"quantitative"},"x2":{"field":"qx"},"y2":{"field":"qy"}}},
{"data":{"name":"ticks"},"mark":{"type":"rule","stroke":"#222222","strokeWidth":3},"encoding":{"x":{"field":"px","type":"quantitative"},"y":{"field":"py","type":"quantitative"},"x2":{"field":"qx"},"y2":{"field":"qy"}}},
{"data":{"name":"ticklabels"},"mark":{"type":"text","font":"DejaVu Sans","fontSize":33,"fill":"#262626","align":"center","baseline":"middle"},"encoding":{"x":{"field":"px","type":"quantitative"},"y":{"field":"py","type":"quantitative"},"text":{"field":"t"}}},
{"data":{"values":[{"px":512,"py":1609,"t":"x [m]"}]},"mark":{"type":"text","font":"Liberation Serif","fontSize":46,"fill":"#222222","angle":20,"align":"center","baseline":"middle"},"encoding":{"x":{"field":"px","type":"quantitative"},"y":{"field":"py","type":"quantitative"},"text":{"field":"t"}}},
{"data":{"values":[{"px":1591,"py":1410,"t":"y [m]"}]},"mark":{"type":"text","font":"Liberation Serif","fontSize":46,"fill":"#222222","angle":307,"align":"center","baseline":"middle"},"encoding":{"x":{"field":"px","type":"quantitative"},"y":{"field":"py","type":"quantitative"},"text":{"field":"t"}}},
{"data":{"values":[{"px":1855,"py":729,"t":"z [m]"}]},"mark":{"type":"text","font":"Liberation Serif","fontSize":46,"fill":"#222222","angle":270,"align":"center","baseline":"middle"},"encoding":{"x":{"field":"px","type":"quantitative"},"y":{"field":"py","type":"quantitative"},"text":{"field":"t"}}},
{"data":{"values":[{"px":1108,"py":351,"qx":1661,"qy":495}]},"mark":{"type":"rect","fill":"#ffffff","stroke":"#d0d0d0","strokeWidth":2,"cornerRadius":5},"encoding":{"x":{"field":"px","type":"quantitative"},"y":{"field":"py","type":"quantitative"},"x2":{"field":"qx"},"y2":{"field":"qy"}}},
{"data":{"name":"traj"},"mark":{"type":"line","interpolate":"catmull-rom","strokeWidth":4.2},"encoding":{"x":{"field":"px","type":"quantitative"},"y":{"field":"py","type":"quantitative"},"order":{"field":"i"},
"color":{"field":"s","type":"nominal","scale":{"domain":["Ground Truth","ICEKF"],"range":["#000000","#2e6eb4"]},"legend":{"orient":"none","legendX":1122,"legendY":346,"title":null,"labelFont":"Liberation Serif","labelFontSize":48,"labelColor":"#111111","labelOffset":18,"symbolSize":8100,"symbolStrokeWidth":4,"symbolType":"stroke","rowPadding":-21,"labelLimit":400}},
"strokeDash":{"field":"s","type":"nominal","scale":{"domain":["Ground Truth","ICEKF"],"range":[[16,8],[1,0]]},"legend":{"orient":"none","legendX":1122,"legendY":346,"title":null,"labelFont":"Liberation Serif","labelFontSize":48,"labelColor":"#111111","labelOffset":18,"symbolSize":8100,"symbolStrokeWidth":4,"symbolType":"stroke","rowPadding":-21,"labelLimit":400}}}}
],
"config":{"view":{"stroke":null}}}
